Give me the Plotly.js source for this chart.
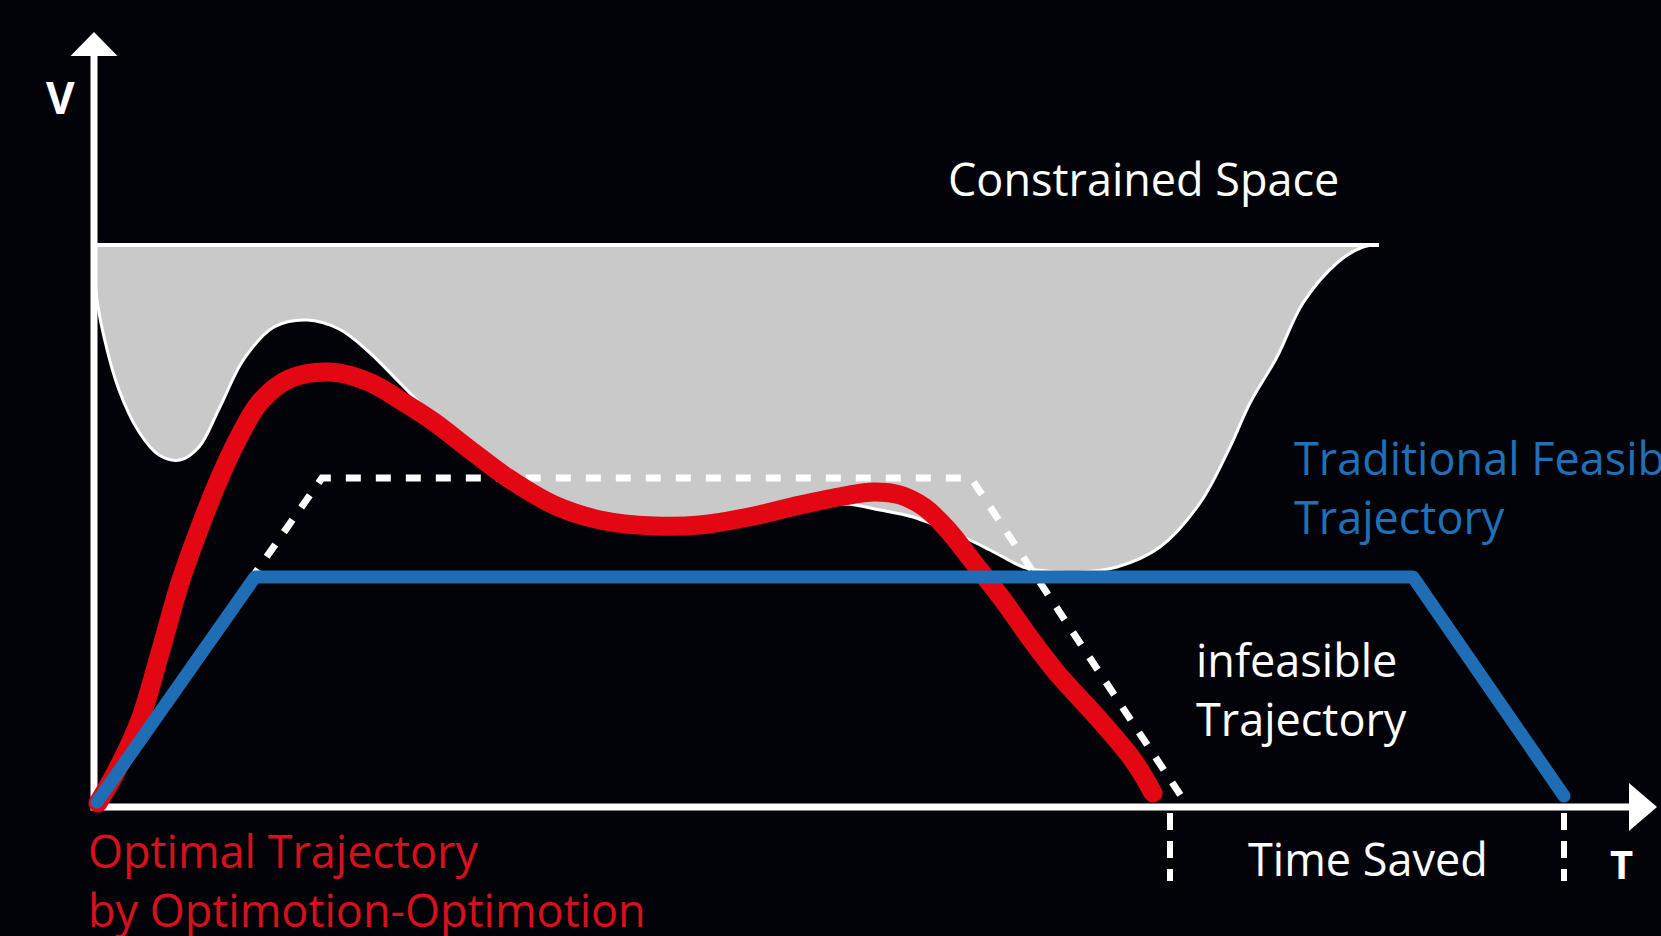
<!DOCTYPE html>
<html><head><meta charset="utf-8">
<script src="https://cdn.plot.ly/plotly-3.0.1.min.js"></script>
<style>html,body{margin:0;padding:0;background:#020308;overflow:hidden}</style>
</head><body><div id="chart" style="width:1661px;height:936px"></div>
<script>
// ---- data (T = time, V = velocity, schematic units) ----
const ceilingT = [0, 12.85];
const ceilingV = [5.62, 5.62];

const boundaryT = [0, 0.02, 0.10, 0.25, 0.45, 0.65, 0.86, 1.05, 1.25, 1.50, 1.80, 2.13, 2.45, 2.75, 3.05, 3.30, 3.70, 4.14, 4.60, 5.06, 5.60, 6.06, 6.60, 7.06, 7.50, 7.86, 8.19, 8.69, 8.96, 9.29, 9.43, 9.86, 10.23, 10.66, 11.06, 11.36, 11.56, 11.83, 12.09, 12.43, 12.69, 12.83];
const boundaryV = [5.57, 5.15, 4.70, 4.17, 3.75, 3.52, 3.47, 3.60, 3.98, 4.48, 4.80, 4.87, 4.78, 4.55, 4.25, 4.00, 3.66, 3.33, 3.03, 2.87, 2.80, 2.80, 2.88, 2.97, 3.03, 2.97, 2.90, 2.70, 2.57, 2.40, 2.37, 2.35, 2.40, 2.60, 3.04, 3.60, 4.04, 4.50, 5.04, 5.44, 5.60, 5.62];

const optimalT = [0.04, 0.23, 0.46, 0.66, 0.86, 1.06, 1.26, 1.46, 1.66, 1.95, 2.36, 2.75, 3.06, 3.40, 3.75, 4.14, 4.60, 5.06, 5.60, 6.06, 6.60, 7.06, 7.50, 7.80, 8.06, 8.30, 8.53, 8.83, 9.09, 9.36, 9.63, 10.03, 10.39, 10.59];
const optimalV = [0.04, 0.37, 0.87, 1.54, 2.24, 2.80, 3.30, 3.72, 4.05, 4.28, 4.35, 4.25, 4.07, 3.85, 3.58, 3.29, 3.02, 2.87, 2.81, 2.82, 2.91, 3.02, 3.11, 3.15, 3.12, 3.00, 2.78, 2.40, 2.07, 1.69, 1.34, 0.90, 0.47, 0.14];

const traditionalT = [0.03, 1.61, 13.19, 14.70];
const traditionalV = [0.05, 2.30, 2.30, 0.11];

const infeasibleT = [0.0, 2.28, 8.77, 10.91];
const infeasibleV = [0.05, 3.29, 3.29, 0.05];

const savedT = [10.76, 14.70];
const savedV = [-0.06, -0.74];

const axisMaxT = 15.63;
const axisMaxV = 7.75;

const labels = {
  constrained: "Constrained Space",
  traditional: "Traditional Feasible<br>Trajectory",
  infeasible: "infeasible<br>Trajectory",
  saved: "Time Saved",
  optimal: "Optimal Trajectory<br>by Optimotion-Optimotion",
  vAxis: "V",
  tAxis: "T"
};

// ---- styles ----
const BG = '#020308';
const RED = '#e30613';
const BLUE = '#1f6db4';
const GRAY = '#c9c9c9';
const FONT = '"Open Sans", "Noto Sans", sans-serif';

const traces = [];
// constrained space
traces.push({x: ceilingT, y: ceilingV, mode: 'lines', line: {color: '#ffffff', width: 4}, hoverinfo: 'skip'});
traces.push({x: boundaryT, y: boundaryV, mode: 'lines', fill: 'tonexty', fillcolor: GRAY,
  line: {color: '#ffffff', width: 3, shape: 'spline', smoothing: 1}, hoverinfo: 'skip'});
// axes
traces.push({x: [0, 0], y: [0, axisMaxV - 0.2], mode: 'lines', line: {color: '#ffffff', width: 7}, hoverinfo: 'skip'});
traces.push({x: [-0.035, axisMaxT - 0.25], y: [0, 0], mode: 'lines', line: {color: '#ffffff', width: 7}, hoverinfo: 'skip'});
// time saved markers
savedT.forEach(t => traces.push({x: [t, t], y: savedV, mode: 'lines',
  line: {color: '#ffffff', width: 6, dash: '17px,11px'}, hoverinfo: 'skip'}));
// infeasible trajectory
traces.push({x: infeasibleT, y: infeasibleV, mode: 'lines', line: {color: '#ffffff', width: 7, dash: '15px,15px'}, hoverinfo: 'skip'});
// optimal
traces.push({x: optimalT, y: optimalV, mode: 'lines', line: {color: RED, width: 19, shape: 'spline', smoothing: 1}, hoverinfo: 'skip'});
// traditional
traces.push({x: traditionalT, y: traditionalV, mode: 'lines', line: {color: BLUE, width: 13}, hoverinfo: 'skip'});

const ann = (text, x, y, color, xanchor, extra) => Object.assign({
  text, x, y, xref: 'x', yref: 'y', showarrow: false, xanchor, yanchor: 'middle', align: 'left',
  font: {family: FONT, size: 45, color}
}, extra || {});

const annotations = [
  ann(labels.constrained, 10.49, 6.29, '#ffffff', 'center'),
  ann(labels.traditional, 11.98, 3.20, '#1f70b6', 'left'),
  ann(labels.infeasible, 11.0, 1.18, '#ffffff', 'left'),
  ann(labels.saved, 12.74, -0.51, '#ffffff', 'center'),
  ann(labels.optimal, -0.08, -0.73, '#d8101d', 'left'),
  ann(labels.vAxis, -0.34, 7.10, '#ffffff', 'center', {font: {family: FONT, size: 44, color: '#ffffff', weight: 'bold'}}),
  ann(labels.tAxis, 15.27, -0.56, '#ffffff', 'center', {font: {family: FONT, size: 40, color: '#ffffff', weight: 'bold'}})
];

const shapes = [
  {type: 'path', xref: 'x', yref: 'y', fillcolor: '#ffffff', line: {width: 0},
   path: `M ${-0.235} ${axisMaxV - 0.24} L 0 ${axisMaxV} L ${0.235} ${axisMaxV - 0.24} Z`},
  {type: 'path', xref: 'x', yref: 'y', fillcolor: '#ffffff', line: {width: 0},
   path: `M ${axisMaxT - 0.28} 0.24 L ${axisMaxT} 0 L ${axisMaxT - 0.28} -0.24 Z`}
];

const layout = {
  width: 1661, height: 936,
  margin: {l: 0, r: 0, t: 0, b: 0, pad: 0},
  paper_bgcolor: BG, plot_bgcolor: BG,
  showlegend: false,
  xaxis: {range: [-0.94, 15.67], visible: false, fixedrange: true},
  yaxis: {range: [-1.29, 8.07], visible: false, fixedrange: true},
  annotations, shapes
};

Plotly.newPlot('chart', traces, layout, {staticPlot: true, displayModeBar: false}).then(() => {
  const tr = document.querySelectorAll('.scatterlayer .trace');
  [tr.length - 1, tr.length - 2].forEach(i => {
    const p = tr[i] && tr[i].querySelector('path.js-line');
    if (p) { p.style.strokeLinecap = 'round'; p.style.strokeLinejoin = 'round'; }
  });
});
</script></body></html>
